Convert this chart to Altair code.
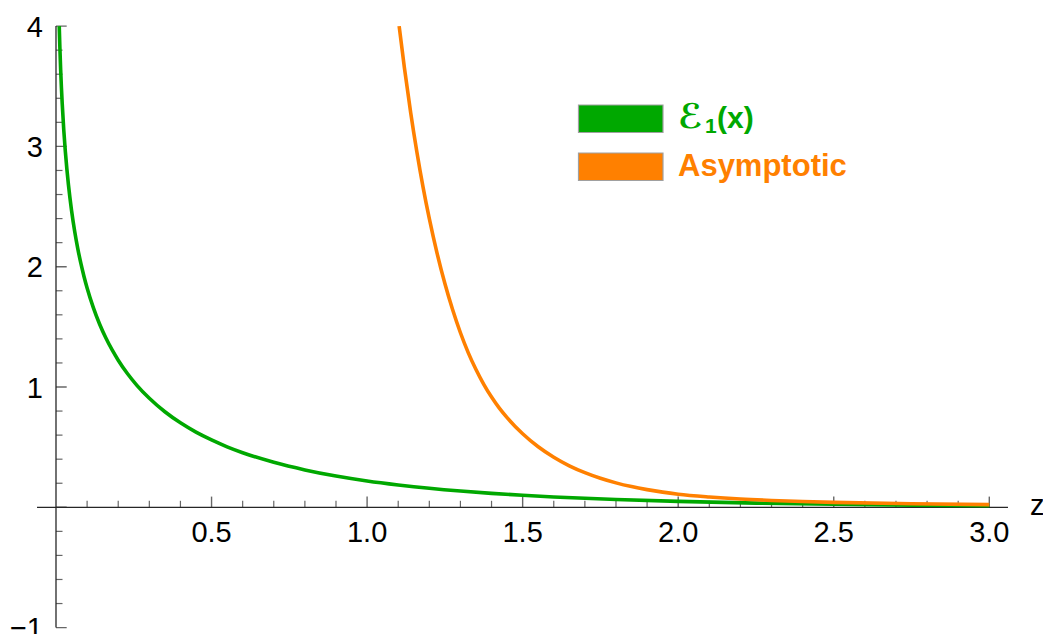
import altair as alt
import pandas as pd

# ---- data ----
green_x = [0.0104, 0.0125, 0.015, 0.0175, 0.02, 0.025, 0.03, 0.035, 0.04, 0.05, 0.06, 0.07,
           0.08, 0.09, 0.10, 0.12, 0.14, 0.16, 0.18, 0.20, 0.23, 0.26, 0.30, 0.35, 0.40,
           0.45, 0.50, 0.55, 0.60, 0.70, 0.80, 0.90, 1.00, 1.10, 1.20, 1.30, 1.40, 1.50,
           1.60, 1.80, 2.00, 2.25, 2.50, 2.75, 3.00]
green_y = [4.000, 3.820, 3.636, 3.485, 3.355, 3.136, 2.959, 2.810, 2.681, 2.468, 2.295, 2.151,
           2.027, 1.919, 1.823, 1.660, 1.524, 1.409, 1.310, 1.223, 1.110, 1.014, 0.906, 0.794, 0.702,
           0.625, 0.560, 0.503, 0.454, 0.374, 0.311, 0.260, 0.219, 0.186, 0.158, 0.135, 0.116, 0.100,
           0.086, 0.065, 0.049, 0.035, 0.025, 0.018, 0.013]

orange_x = [1.103, 1.12, 1.14, 1.16, 1.18, 1.20, 1.225, 1.25, 1.275, 1.30, 1.325, 1.35,
            1.375, 1.40, 1.425, 1.45, 1.50, 1.55, 1.60, 1.65, 1.70, 1.75, 1.80, 1.85,
            1.90, 1.95, 2.00, 2.10, 2.20, 2.30, 2.40, 2.50, 2.75, 3.00]
orange_y = [4.000, 3.652, 3.282, 2.954, 2.660, 2.399, 2.111, 1.860, 1.642, 1.451, 1.286, 1.145,
            1.022, 0.916, 0.824, 0.745, 0.611, 0.503, 0.416, 0.345, 0.288, 0.241, 0.203, 0.172,
            0.147, 0.126, 0.109, 0.086, 0.069, 0.057, 0.048, 0.041, 0.030, 0.022]

series_names = ["ℰ₁(x)", "Asymptotic"]
series_colors = ["#00a800", "#ff8000"]
legend_pieces = [["ℰ", "1", "(x)"], ["Asymptotic"]]

x_major = [0.5, 1.0, 1.5, 2.0, 2.5, 3.0]
x_major_labels = ["0.5", "1.0", "1.5", "2.0", "2.5", "3.0"]
x_minor = [round(0.1 * i, 1) for i in range(1, 31) if i % 5]
y_major = [-1, 0, 1, 2, 3, 4]
y_major_labels = ["−1", "", "1", "2", "3", "4"]
y_minor = [round(0.2 * i, 1) for i in range(-4, 20) if i % 5]
x_axis_extent = [-0.061, 3.06]
y_axis_extent = [-1.0, 4.0]
axis_label = "z"

# ---- tables ----
lines = pd.concat([
    pd.DataFrame({"x": green_x, "y": green_y, "s": series_names[0], "o": range(len(green_x))}),
    pd.DataFrame({"x": orange_x, "y": orange_y, "s": series_names[1], "o": range(len(orange_x))}),
])

W, H = 1043, 634
xs = alt.Scale(domain=[-0.180, 3.1726], nice=False, zero=False)
ys = alt.Scale(domain=[-1.0532, 4.217], nice=False, zero=False)
X = lambda f="x": alt.X(f"{f}:Q", scale=xs, axis=None)
Y = lambda f="y": alt.Y(f"{f}:Q", scale=ys, axis=None)
FONT = "Liberation Sans, Arial, DejaVu Sans"
AX = "#262626"

curves = alt.Chart(lines).mark_line(strokeWidth=3.6, interpolate="monotone", clip=True).encode(
    x=X(), y=Y(), order="o:Q",
    color=alt.Color("s:N", scale=alt.Scale(domain=series_names, range=series_colors), legend=None),
)

xaxis = alt.Chart(pd.DataFrame({"x": [x_axis_extent[0]], "x2": [x_axis_extent[1]], "y": [0]})).mark_rule(
    color=AX, strokeWidth=1.3).encode(x=X(), x2="x2:Q", y=Y())
yaxis = alt.Chart(pd.DataFrame({"x": [0], "y": [y_axis_extent[0]], "y2": [y_axis_extent[1]]})).mark_rule(
    color=AX, strokeWidth=1.3).encode(x=X(), y=Y(), y2="y2:Q")

xmaj = alt.Chart(pd.DataFrame({"x": x_major, "y": 0, "t": x_major_labels}))
xmaj_ticks = xmaj.mark_tick(orient="vertical", size=10.7, thickness=1.4, yOffset=-5.35, color=AX).encode(x=X(), y=Y())
xmaj_text = xmaj.mark_text(fontSize=29, font=FONT, baseline="alphabetic", align="center", dy=34.5, color="black").encode(
    x=X(), y=Y(), text="t:N")
xmin_ticks = alt.Chart(pd.DataFrame({"x": x_minor, "y": 0})).mark_tick(
    orient="vertical", size=6.5, thickness=1.2, yOffset=-3.25, color=AX).encode(x=X(), y=Y())

ymaj = alt.Chart(pd.DataFrame({"x": 0, "y": y_major, "t": y_major_labels}))
ymaj_ticks = ymaj.mark_tick(orient="horizontal", size=10.7, thickness=1.4, xOffset=5.35, color=AX).encode(x=X(), y=Y())
ymaj_text = ymaj.mark_text(fontSize=29, font=FONT, baseline="alphabetic", align="right", dx=-13, dy=10.5, color="black").encode(
    x=X(), y=Y(), text="t:N")
ymin_ticks = alt.Chart(pd.DataFrame({"x": 0, "y": y_minor})).mark_tick(
    orient="horizontal", size=6.5, thickness=1.2, xOffset=3.25, color=AX).encode(x=X(), y=Y())

zlabel = alt.Chart(pd.DataFrame({"x": [x_axis_extent[1]], "y": [0], "t": [axis_label]})).mark_text(
    fontSize=29, font=FONT, baseline="alphabetic", align="left", dx=22, dy=8, color="black").encode(
    x=X(), y=Y(), text="t:N")

legend_layers = []
piece_style = {  # (x offset from label start, baseline shift, font size) for each text piece
    3: [(0, 0, 34), (27, 5, 21), (39, 0, 30)],
    1: [(0, 0, 31)],
}
for i, (name, col, pieces) in enumerate(zip(series_names, series_colors, legend_pieces)):
    top = 105 + 48 * i
    legend_layers.append(alt.Chart(pd.DataFrame({"t": [name]})).mark_rect(
        fill=col, stroke="#a0a0a0", strokeWidth=1.2).encode(
        x=alt.value(578.5), x2=alt.value(663), y=alt.value(top), y2=alt.value(top + 27.5)))
    for piece, (dx, dy, fs) in zip(pieces, piece_style[len(pieces)]):
        legend_layers.append(alt.Chart(pd.DataFrame({"t": [piece]})).mark_text(
            fontSize=fs, font=FONT, fontWeight="bold", align="left", baseline="alphabetic", color=col).encode(
            x=alt.value(678 + dx), y=alt.value(top + 23 + dy), text="t:N"))

chart = alt.layer(
    xaxis, yaxis, xmin_ticks, xmaj_ticks, ymin_ticks, ymaj_ticks, curves,
    xmaj_text, ymaj_text, zlabel, *legend_layers,
).properties(
    width=W, height=H, padding=0, autosize=alt.AutoSizeParams(type="none"), background="white",
).configure_view(stroke=None)

chart.save("out.html", embed_options={"renderer": "svg", "actions": False})
